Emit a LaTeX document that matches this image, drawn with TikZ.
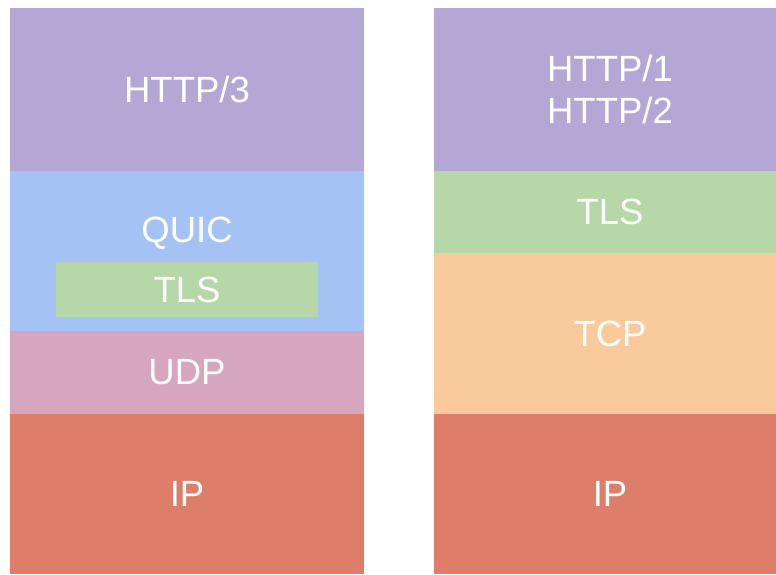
\documentclass[tikz,border=0pt]{standalone}
\usepackage{fontspec}
\setmainfont{Liberation Sans}
\definecolor{cpurple}{HTML}{B4A7D6}
\definecolor{cblue}{HTML}{A4C2F4}
\definecolor{cgreen}{HTML}{B6D7A8}
\definecolor{cpink}{HTML}{D5A6BD}
\definecolor{cred}{HTML}{DD7E6B}
\definecolor{corange}{HTML}{F9CB9C}
\begin{document}
\begin{tikzpicture}[x=1pt,y=-1pt,
  lbl/.style={text=white,font=\fontsize{36.5}{42}\selectfont,align=center,inner sep=0pt}]
\useasboundingbox (0,0) rectangle (776,574);
% left stack
\fill[cpurple] (10,8) rectangle (364,171);
\fill[cblue] (10,171) rectangle (364,331);
\fill[cgreen] (56,262) rectangle (318,317);
\fill[cpink] (10,331) rectangle (364,414);
\fill[cred] (10,414) rectangle (364,574);
% right stack
\fill[cpurple] (434,8) rectangle (776,171);
\fill[cgreen] (434,171) rectangle (776,253);
\fill[corange] (434,253) rectangle (776,414);
\fill[cred] (434,414) rectangle (776,574);
% labels
\node[lbl] (http3) at (187,89.5) {HTTP/3};
\node[lbl] (quic) at (187,233) {QUIC};
\node[lbl] (tlsl) at (187,289.5) {TLS};
\node[lbl] (udp) at (187,372.5) {UDP};
\node[lbl] (ipl) at (187,494) {IP};
\node[lbl] (http12) at (610,89.5) {HTTP/1\\HTTP/2};
\node[lbl] (tlsr) at (610,212) {TLS};
\node[lbl] (tcp) at (610,333.5) {TCP};
\node[lbl] (ipr) at (610,494) {IP};
\end{tikzpicture}
\end{document}
